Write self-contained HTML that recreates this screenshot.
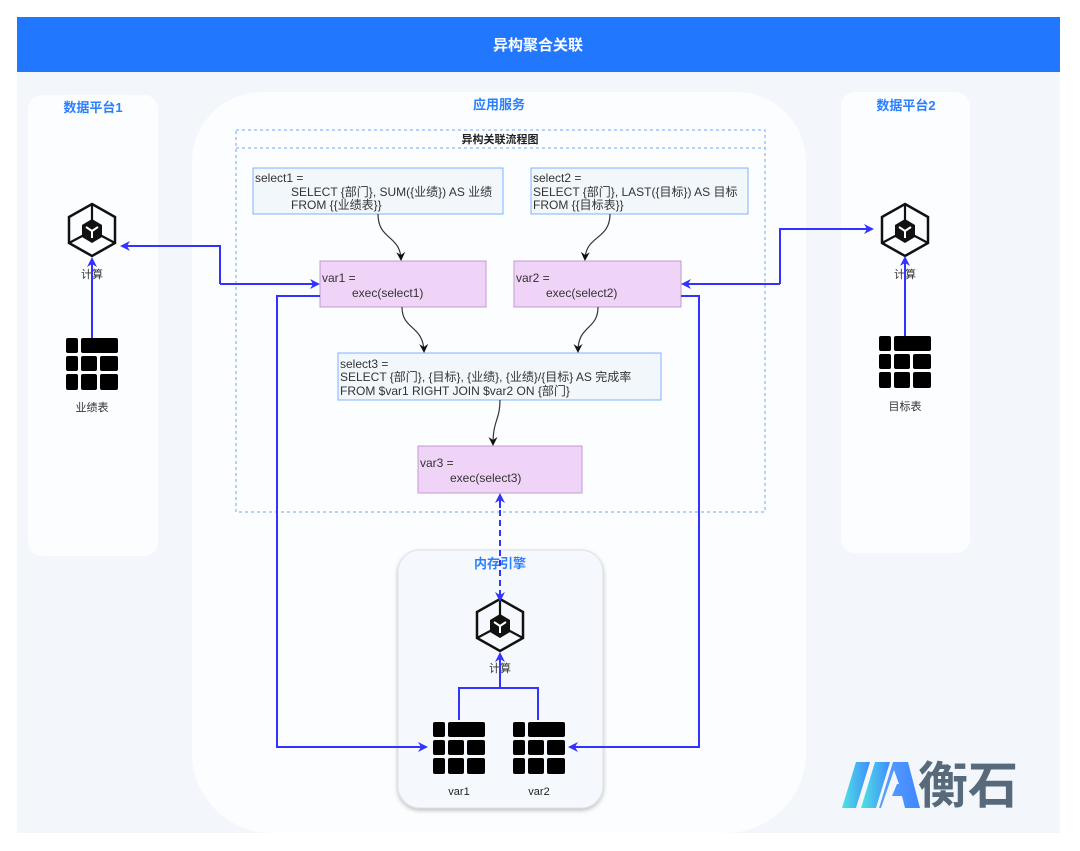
<!DOCTYPE html>
<html><head><meta charset="utf-8"><style>
body{margin:0;background:#fff;}
svg{display:block;font-family:"Liberation Sans","Noto Sans CJK SC",sans-serif;}
</style></head><body>
<svg width="1080" height="851" viewBox="0 0 1080 851" xmlns="http://www.w3.org/2000/svg">
<defs>
<marker id="ab" markerWidth="10" markerHeight="10" refX="8" refY="5" orient="auto" markerUnits="userSpaceOnUse"><path d="M0,0 L10,5 L0,10 L3,5 z" fill="#3333ff"/></marker>
<marker id="ak" markerWidth="9" markerHeight="9" refX="7" refY="4.5" orient="auto" markerUnits="userSpaceOnUse"><path d="M0,0 L9,4.5 L0,9 L3,4.5 z" fill="#111"/></marker>
<g id="hex">
<path d="M0,-26 L23,-13 L23,13 L0,26 L-23,13 L-23,-13 Z" fill="none" stroke="#111" stroke-width="2.5"/>
<path d="M0,-26 L0,-8 M-23,13 L-8,5 M23,13 L8,5" stroke="#111" stroke-width="2.2"/>
<path d="M0,-11 L10,-5 L10,7 L0,13 L-10,7 L-10,-5 Z" fill="#111"/>
<path d="M-6,-3 L0,1 L6,-3 M0,1 L0,8" stroke="#fff" stroke-width="2" fill="none"/>
</g>
<g id="tbl" fill="#000">
<rect x="0" y="0" width="12" height="15" rx="2"/><rect x="15" y="0" width="37" height="15" rx="2"/>
<rect x="0" y="18" width="12" height="15" rx="2"/><rect x="15" y="18" width="16" height="15" rx="2"/><rect x="34" y="18" width="18" height="15" rx="2"/>
<rect x="0" y="36" width="12" height="16" rx="2"/><rect x="15" y="36" width="16" height="16" rx="2"/><rect x="34" y="36" width="18" height="16" rx="2"/>
</g>
<linearGradient id="lg" x1="0" y1="0" x2="1" y2="0"><stop offset="0" stop-color="#4fe3e0"/><stop offset="1" stop-color="#3f8cff"/></linearGradient>
<linearGradient id="lg2" x1="0" y1="0" x2="1" y2="0"><stop offset="0" stop-color="#5aa0ff"/><stop offset="1" stop-color="#3f88ff"/></linearGradient>
<filter id="sh" x="-10%" y="-10%" width="120%" height="120%"><feDropShadow dx="0" dy="2" stdDeviation="2" flood-color="#000" flood-opacity="0.25"/></filter>
</defs>
<rect x="17" y="17" width="1043" height="816" fill="#f3f7fc"/>
<rect x="17" y="17" width="1043" height="55" fill="#2277ff"/>
<text x="538" y="50" font-size="15" font-weight="bold" fill="#fff" text-anchor="middle">异构聚合关联</text>

<rect x="28" y="95" width="130" height="461" rx="14" fill="#fcfdff"/>
<text x="93" y="112" font-size="13" font-weight="bold" fill="#2a7fff" text-anchor="middle">数据平台1</text>
<rect x="841" y="92" width="129" height="461" rx="14" fill="#fcfdff"/>
<text x="906" y="110" font-size="13" font-weight="bold" fill="#2a7fff" text-anchor="middle">数据平台2</text>
<path d="M262,92 H736 A70,70 0 0 1 806,162 V753 A80,80 0 0 1 726,833 H272 A80,80 0 0 1 192,753 V162 A70,70 0 0 1 262,92 Z" fill="#fcfdff"/>
<text x="499" y="109" font-size="13" font-weight="bold" fill="#2a7fff" text-anchor="middle">应用服务</text>

<rect x="236" y="130" width="529" height="382" fill="none" stroke="#6fa3ff" stroke-dasharray="3,3"/>
<line x1="236" y1="148" x2="765" y2="148" stroke="#6fa3ff" stroke-dasharray="3,3"/>
<text x="500" y="143" font-size="11" font-weight="bold" fill="#222" text-anchor="middle">异构关联流程图</text>

<g font-size="12" fill="#333">
<rect x="253" y="168" width="250" height="46" fill="#f2f7fc" stroke="#7fb2ff"/>
<text x="255" y="182">select1 =</text><text x="291" y="196">SELECT {部门}, SUM({业绩}) AS 业绩</text><text x="291" y="209">FROM {{业绩表}}</text>
<rect x="531" y="168" width="217" height="46" fill="#f2f7fc" stroke="#7fb2ff"/>
<text x="533" y="182">select2 =</text><text x="533" y="196">SELECT {部门}, LAST({目标}) AS 目标</text><text x="533" y="209">FROM {{目标表}}</text>
<rect x="320" y="261" width="166" height="46" fill="#f0d4f8" stroke="#c09ad0"/>
<text x="322" y="282">var1 =</text><text x="352" y="297">exec(select1)</text>
<rect x="514" y="261" width="167" height="46" fill="#f0d4f8" stroke="#c09ad0"/>
<text x="516" y="282">var2 =</text><text x="546" y="297">exec(select2)</text>
<rect x="338" y="353" width="323" height="47" fill="#f2f7fc" stroke="#7fb2ff"/>
<text x="340" y="368">select3 =</text><text x="340" y="381">SELECT {部门}, {目标}, {业绩}, {业绩}/{目标} AS 完成率</text><text x="340" y="395">FROM $var1 RIGHT JOIN $var2 ON {部门}</text>
<rect x="418" y="446" width="164" height="47" fill="#f0d4f8" stroke="#c09ad0"/>
<text x="420" y="467">var3 =</text><text x="450" y="482">exec(select3)</text>
</g>

<g fill="none" stroke="#333" stroke-width="1.2" marker-end="url(#ak)">
<path d="M378,214 C378,240 400,235 401,259"/>
<path d="M610,214 C610,240 586,235 585,259"/>
<path d="M402,307 C402,330 423,325 424,351"/>
<path d="M598,307 C598,330 578,325 578,351"/>
<path d="M500,400 C500,420 493,420 493,444"/>
</g>

<rect x="398" y="550" width="205" height="258" rx="22" fill="#f5f8fc" stroke="#dde2ea" filter="url(#sh)"/>
<text x="500" y="568" font-size="13" font-weight="bold" fill="#2a7fff" text-anchor="middle">内存引擎</text>

<use href="#hex" x="92" y="230"/><text x="92" y="278" font-size="11" fill="#333" text-anchor="middle">计算</text>
<use href="#tbl" x="66" y="338"/><text x="92" y="411" font-size="11" fill="#333" text-anchor="middle">业绩表</text>
<use href="#hex" x="905" y="230"/><text x="905" y="278" font-size="11" fill="#333" text-anchor="middle">计算</text>
<use href="#tbl" x="879" y="336"/><text x="905" y="410" font-size="11" fill="#333" text-anchor="middle">目标表</text>
<use href="#hex" x="500" y="625"/><text x="500" y="672" font-size="11" fill="#333" text-anchor="middle">计算</text>
<use href="#tbl" x="433" y="722"/><text x="459" y="795" font-size="11" fill="#222" text-anchor="middle">var1</text>
<use href="#tbl" x="513" y="722"/><text x="539" y="795" font-size="11" fill="#222" text-anchor="middle">var2</text>

<g fill="none" stroke="#3333ff" stroke-width="2">
<path d="M220,284 V246 H122" marker-end="url(#ab)"/>
<path d="M220,284 H318" marker-end="url(#ab)"/>
<path d="M92,338 V259" marker-end="url(#ab)"/>
<path d="M320,296 H277 V747 H426" marker-end="url(#ab)"/>
<path d="M780,284 V229 H872" marker-end="url(#ab)"/>
<path d="M780,284 H683" marker-end="url(#ab)"/>
<path d="M905,336 V258" marker-end="url(#ab)"/>
<path d="M681,296 H699 V747 H570" marker-end="url(#ab)"/>
<path d="M459,720 V688 H538 V720"/>
<path d="M500,688 V654" marker-end="url(#ab)"/>
<path d="M500,508 V495" marker-end="url(#ab)"/>
<path d="M500,500 V597" stroke-dasharray="6,4"/>
<path d="M500,595 V600" marker-end="url(#ab)"/>
</g>

<g>
<path d="M856,762 L870,762 L856,808 L842,808 Z" fill="url(#lg)"/>
<path d="M875,762 L890,762 L876,808 L861,808 Z" fill="url(#lg)"/>
<path d="M893,762 L908,762 L920,808 L905,808 L902,796 L892,796 L897,784 L899,784 L894,770 L881,808 L879,808 Z" fill="url(#lg2)"/>
<text x="968" y="803" font-size="50" font-weight="bold" fill="#566a7b" text-anchor="middle">衡石</text>
</g>
</svg>
</body></html>
